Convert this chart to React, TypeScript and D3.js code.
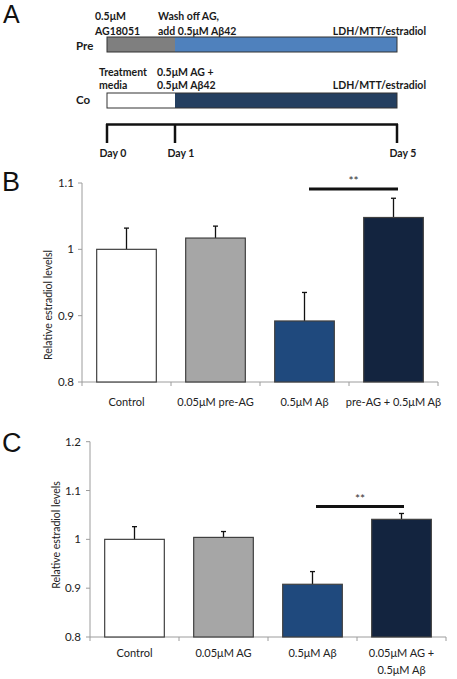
import React from "react";
import * as d3 from "d3";

// ---------- Data ----------
const catsB = ["Control", "0.05μM pre-AG", "0.5μM Aβ", "pre-AG + 0.5μM Aβ"];
const valsB = [1.0, 1.017, 0.892, 1.048];
const errB = [0.032, 0.018, 0.043, 0.029];
const ticksB = [0.8, 0.9, 1.0, 1.1];

const catsC = [["Control"], ["0.05μM AG"], ["0.5μM Aβ"], ["0.05μM AG +", "0.5μM Aβ"]];
const valsC = [1.0, 1.004, 0.908, 1.041];
const errC = [0.026, 0.012, 0.026, 0.012];
const ticksC = [0.8, 0.9, 1.0, 1.1, 1.2];

const barColors = ["#ffffff", "#a6a6a6", "#1f497d", "#13243f"];

const days = [0, 1, 5];
const dayLabels = ["Day 0", "Day 1", "Day 5"];

const FONT = "Lato, 'Open Sans', sans-serif";

function fmt(v: number) {
  return v === 1 ? "1" : String(v);
}

type PanelProps = {
  top: number; bottom: number; left: number; right: number;
  domain: [number, number]; ticks: number[]; vals: number[]; errs: number[];
  cats: string[][]; ylabel: string; ylabelX: number; ylabelY: number;
  sig: [number, number]; sigY: number; labelY: number; tickRight: number;
};

function BarPanel(p: PanelProps) {
  const x = d3.scaleBand<number>().domain(p.vals.map((_, i) => i)).range([p.left, p.right])
    .paddingInner(0.33).paddingOuter(0.165);
  const y = d3.scaleLinear().domain(p.domain).range([p.bottom, p.top]);
  const step = x.step();
  const boundaries = d3.range(p.vals.length + 1).map((i) => p.left + i * step);
  return (
    <g>
      {/* axes */}
      <line x1={p.left} x2={p.left} y1={y(p.domain[1])} y2={p.bottom} stroke="#9c9c9c" strokeWidth={1} />
      <line x1={p.left} x2={p.right} y1={p.bottom} y2={p.bottom} stroke="#9c9c9c" strokeWidth={1} />
      {p.ticks.map((t) => (
        <g key={t}>
          <line x1={p.left - 4} x2={p.left} y1={y(t)} y2={y(t)} stroke="#9c9c9c" />
          <text x={p.tickRight} y={y(t)} dy="0.35em" textAnchor="end" fontSize={11.5} fill="#222" fontFamily={FONT}>{fmt(t)}</text>
        </g>
      ))}
      {boundaries.map((bx, i) => (
        <line key={i} x1={bx} x2={bx} y1={p.bottom} y2={p.bottom + 4} stroke="#9c9c9c" />
      ))}
      {/* bars */}
      {p.vals.map((v, i) => {
        const bx = x(i)!;
        const bw = x.bandwidth();
        const cx = bx + bw / 2;
        return (
          <g key={i}>
            <line x1={cx} x2={cx} y1={y(v)} y2={y(v + p.errs[i])} stroke="#111" strokeWidth={1.3} />
            <line x1={cx - 2.5} x2={cx + 2.5} y1={y(v + p.errs[i])} y2={y(v + p.errs[i])} stroke="#111" strokeWidth={1.3} />
            <rect x={bx} y={y(v)} width={bw} height={p.bottom - y(v)} fill={barColors[i]} stroke="#404040" strokeWidth={1.2} />
          </g>
        );
      })}
      {/* significance */}
      <line x1={p.sig[0]} x2={p.sig[1]} y1={p.sigY} y2={p.sigY} stroke="#111" strokeWidth={3} />
      <text x={(p.sig[0] + p.sig[1]) / 2} y={p.sigY - 4} textAnchor="middle" fontSize={12} fill="#333" fontFamily={FONT}>**</text>
      {/* category labels */}
      {p.cats.map((lines, i) => (
        <text key={i} x={x(i)! + x.bandwidth() / 2} y={p.labelY} textAnchor="middle" fontSize={11} fill="#222" fontFamily={FONT}>
          {lines.map((l, j) => (
            <tspan key={j} x={x(i)! + x.bandwidth() / 2} dy={j === 0 ? 0 : 17}>{l}</tspan>
          ))}
        </text>
      ))}
      <text transform={`translate(${p.ylabelX},${p.ylabelY}) rotate(-90)`} textAnchor="middle" dy="0.35em" fontSize={10.5} fill="#222" fontFamily={FONT}>{p.ylabel}</text>
    </g>
  );
}

export default function App() {
  const tx = d3.scaleLinear().domain(days).range([107, 175, 397]);
  return (
    <svg width={457} height={679} style={{ position: "absolute", left: 0, top: 0, background: "#fff" }}>
      <rect width={457} height={679} fill="#fff" />
      {/* Panel letters */}
      <text x={3} y={23} fontSize={25} fontFamily="'Liberation Sans', Arial, sans-serif" fill="#111">A</text>
      <text x={2} y={191} fontSize={27} fontFamily="'Liberation Sans', Arial, sans-serif" fill="#111">B</text>
      <text x={2} y={452} fontSize={27} fontFamily="'Liberation Sans', Arial, sans-serif" fill="#111">C</text>

      {/* Panel A */}
      <g fontFamily={FONT} fontWeight="bold" fontSize={10.5} fill="#1a1a1a">
        <text x={95} y={20}>0.5μM</text>
        <text x={95} y={35}>AG18051</text>
        <text x={158} y={20}>Wash off AG,</text>
        <text x={158} y={35}>add 0.5μM Aβ42</text>
        <text x={426} y={35} textAnchor="end">LDH/MTT/estradiol</text>
        <text x={76} y={50} fontSize={11.5}>Pre</text>

        <text x={99} y={76}>Treatment</text>
        <text x={99} y={89}>media</text>
        <text x={157} y={76}>0.5μM AG +</text>
        <text x={157} y={89}>0.5μM Aβ42</text>
        <text x={426} y={89} textAnchor="end">LDH/MTT/estradiol</text>
        <text x={76} y={104} fontSize={11.5}>Co</text>
        {days.map((d, i) => (
          <text key={d} x={tx(d) + 6} y={157} textAnchor="middle">{dayLabels[i]}</text>
        ))}
      </g>
      <rect x={tx(0)} y={37} width={tx(1) - tx(0)} height={15} fill="#7f7f7f" />
      <rect x={tx(1)} y={37} width={tx(5) - tx(1)} height={15} fill="#4f81bd" />
      <rect x={tx(0)} y={37} width={tx(5) - tx(0)} height={15} fill="none" stroke="#333" strokeWidth={1} />
      <rect x={tx(0)} y={93} width={tx(1) - tx(0)} height={15} fill="#ffffff" />
      <rect x={tx(1)} y={93} width={tx(5) - tx(1)} height={15} fill="#243f60" />
      <rect x={tx(0)} y={93} width={tx(5) - tx(0)} height={15} fill="none" stroke="#333" strokeWidth={1} />
      <line x1={tx(0) - 1} x2={tx(5) + 1} y1={124.5} y2={124.5} stroke="#111" strokeWidth={2.5} />
      {days.map((d) => (
        <line key={d} x1={tx(d)} x2={tx(d)} y1={124} y2={143} stroke="#111" strokeWidth={2.5} />
      ))}

      {/* Panel B */}
      <BarPanel top={183} bottom={382} left={82} right={438} domain={[0.8, 1.1]} ticks={ticksB}
        vals={valsB} errs={errB} cats={catsB.map((c) => [c])} ylabel="Relative estradiol levelsl"
        ylabelX={48} ylabelY={305} sig={[309, 398]} sigY={189} labelY={406} tickRight={74} />

      {/* Panel C */}
      <BarPanel top={441.7} bottom={637} left={90} right={446} domain={[0.8, 1.2]} ticks={ticksC}
        vals={valsC} errs={errC} cats={catsC} ylabel="Relative estradiol levels"
        ylabelX={56} ylabelY={535} sig={[316, 404]} sigY={506.5} labelY={657} tickRight={81} />
    </svg>
  );
}
